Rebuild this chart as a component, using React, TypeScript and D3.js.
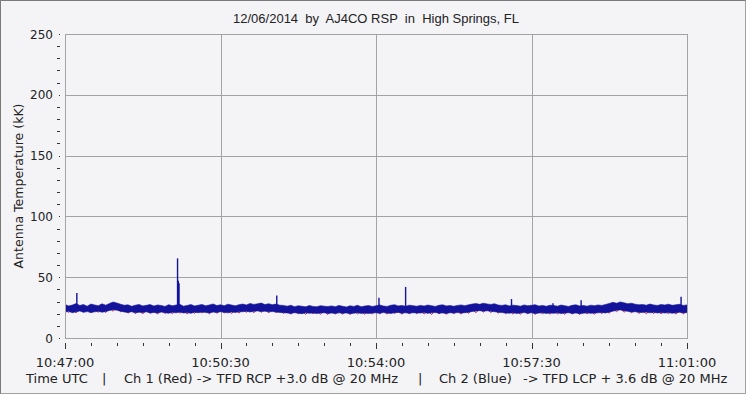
import React, { useEffect, useRef } from 'react';
import * as d3 from 'd3';

// x axis: time of day (UTC)
const startTime = '10:47:00';
const endTime = '11:01:00';
const sampleStep = 5; // seconds between band samples
const xTickLabels = ['10:47:00', '10:50:30', '10:54:00', '10:57:30', '11:01:00'];
const xMinorStep = 35; // seconds
const yTicks = [0, 50, 100, 150, 200, 250];
const yMinorStep = 10;

// Ch 2 (Blue): upper / lower edge of the noise band, kK, every 5 s
const blueHi = [
  27.6, 26.4, 27.1, 28.3, 26.8, 27.5, 26.2, 27.9, 27.2, 26.6, 28.1, 27.0,
  28.4, 29.6, 28.8, 27.8, 26.9, 27.3, 26.1, 27.0, 27.6, 26.4, 26.9, 27.5,
  26.3, 27.2, 26.7, 26.0, 27.4, 26.5, 27.1, 27.7, 26.2, 26.8, 27.5, 26.4,
  27.0, 27.6, 26.5, 27.2, 28.0, 26.7, 27.3, 26.6, 27.8, 27.1, 26.5, 27.4,
  27.9, 27.2, 28.4, 27.6, 28.1, 28.7, 27.5, 28.2, 27.4, 27.9, 27.0, 26.8,
  26.2, 26.9, 25.8, 26.5, 26.1, 25.6, 26.7, 26.0, 25.7, 26.6, 26.2, 25.9,
  26.4, 25.8, 26.8, 26.1, 25.5, 26.5, 26.0, 26.9, 25.7, 26.3, 26.7, 25.9,
  26.5, 27.2, 26.3, 26.0, 26.9, 27.4, 26.4, 26.8, 26.1, 27.0, 26.6, 26.2,
  26.8, 26.3, 27.1, 26.6, 26.0, 26.9, 27.3, 26.4, 26.7, 26.1, 26.8, 27.2,
  26.6, 27.3, 27.9, 28.3, 27.7, 28.6, 28.0, 27.6, 28.2, 27.1, 26.8, 27.3,
  26.4, 27.0, 26.7, 26.2, 27.2, 26.5, 26.9, 27.4, 26.3, 26.8, 26.1, 27.0,
  26.7, 26.2, 27.1, 26.5, 26.0, 26.9, 27.3, 26.4, 26.8, 26.2, 27.0, 26.6,
  27.2, 26.8, 27.6, 28.4, 29.3, 28.6, 29.7, 28.9, 28.2, 28.6, 27.8, 27.3,
  27.6, 27.0, 27.9, 27.2, 26.8, 27.5, 27.1, 27.8, 26.9, 27.3, 27.7, 26.8, 27.2,
];
const blueLo = [
  21.3, 21.9, 20.8, 21.6, 22.2, 21.1, 21.7, 20.9, 21.5, 22.0, 21.2, 21.8,
  22.6, 23.3, 22.9, 22.1, 21.4, 21.0, 21.6, 20.7, 21.2, 20.9, 21.5, 20.6,
  21.0, 20.5, 21.3, 20.8, 20.4, 21.1, 20.7, 21.4, 20.6, 21.0, 20.3, 21.2,
  20.8, 21.4, 21.0, 20.6, 21.3, 20.9, 21.6, 21.1, 20.7, 21.4, 21.0, 21.5,
  21.6, 22.0, 21.4, 21.9, 22.3, 21.7, 22.1, 21.5, 21.8, 21.3, 21.0, 20.8,
  20.6, 20.2, 20.8, 20.4, 20.0, 20.7, 20.3, 20.6, 20.1, 20.5, 20.8, 20.2,
  20.5, 20.1, 20.7, 20.3, 20.6, 20.0, 20.4, 20.8, 20.2, 20.5, 20.1, 20.6,
  20.7, 20.3, 20.9, 20.5, 20.2, 20.8, 21.0, 20.4, 20.7, 20.3, 20.8, 20.5,
  20.6, 20.9, 20.3, 20.7, 21.0, 20.4, 20.6, 20.2, 20.8, 20.5, 20.9, 20.6,
  20.8, 21.2, 21.8, 22.2, 22.5, 22.0, 22.4, 21.9, 21.6, 21.2, 20.9, 20.6,
  20.4, 20.8, 20.2, 20.6, 20.9, 20.3, 20.7, 20.1, 20.5, 20.8, 20.2, 20.6,
  20.3, 20.7, 20.1, 20.5, 20.8, 20.2, 20.6, 20.0, 20.4, 20.7, 20.3, 20.5,
  20.7, 21.0, 20.6, 21.3, 22.1, 22.8, 23.1, 22.5, 21.9, 21.4, 21.6, 21.1,
  20.9, 21.3, 20.7, 21.1, 20.6, 21.0, 20.5, 20.9, 20.4, 20.8, 21.1, 20.6, 20.9,
];
// Ch 1 (Red), kK, every 5 s
const redVals = [
  23.2, 21.0, 24.0, 20.6, 23.5, 21.4, 24.1, 20.8, 23.0, 21.2, 23.8, 20.9,
  24.6, 22.0, 25.1, 21.5, 23.6, 20.4, 23.1, 20.0, 22.9, 19.8, 23.4, 20.3,
  22.8, 19.6, 23.3, 20.1, 22.7, 19.9, 23.5, 20.4, 22.6, 19.7, 23.0, 20.2,
  23.4, 20.5, 22.9, 19.9, 23.6, 20.3, 23.1, 20.6, 22.8, 20.0, 23.5, 20.4,
  23.9, 21.0, 24.2, 20.7, 23.8, 21.1, 24.0, 20.6, 23.7, 20.9, 23.3, 20.2,
  22.7, 19.5, 22.9, 19.8, 22.4, 19.4, 22.8, 19.9, 22.5, 19.6, 22.3, 19.3,
  22.6, 19.7, 22.2, 19.5, 22.8, 19.2, 22.4, 19.8, 22.1, 19.4, 22.7, 19.6,
  22.9, 19.9, 22.5, 19.6, 23.0, 20.1, 22.6, 19.5, 22.8, 19.8, 23.1, 20.0,
  22.7, 19.7, 22.4, 19.3, 22.9, 19.8, 22.5, 19.4, 22.8, 19.9, 22.6, 19.6,
  23.0, 20.2, 23.6, 20.8, 24.1, 21.3, 23.9, 20.9, 23.5, 20.4, 23.0, 19.9,
  22.6, 19.6, 22.9, 19.4, 22.5, 19.8, 22.8, 19.3, 22.4, 19.7, 22.9, 19.5,
  22.7, 19.8, 22.3, 19.4, 22.8, 19.6, 22.5, 19.2, 22.9, 19.7, 22.4, 19.5,
  22.8, 19.9, 23.2, 20.3, 24.3, 21.5, 24.8, 21.2, 24.0, 20.6, 23.4, 20.1,
  23.1, 19.8, 22.8, 20.0, 23.3, 19.7, 22.9, 19.9, 23.2, 19.6, 22.7, 19.8, 22.6,
];
// Ch 2 (Blue) impulses
const spikeTimes = ['10:47:16', '10:49:32', '10:49:33', '10:49:34', '10:51:46', '10:54:04', '10:54:40', '10:57:03', '10:57:59', '10:58:37', '11:00:52'];
const spikeValues = [37, 65.5, 47, 45, 35, 33, 42, 32, 28.5, 31, 34];

const parseTime = d3.timeParse('%H:%M:%S');

export default function App() {
  const svgRef = useRef<SVGSVGElement>(null);

  useEffect(() => {
    if (!svgRef.current) return;
    const W = 747, H = 396;
    const margin = { top: 34, right: 60, bottom: 58, left: 65 };
    const bg = '#f4f4f7';
    const gridColor = '#a3a3a3';
    const tickColor = '#333';
    const blue = '#12129a';
    const red = '#c8304c';

    const svg = d3.select(svgRef.current);
    svg.selectAll('*').remove();

    svg.append('rect').attr('width', W).attr('height', H).attr('fill', '#fff');
    svg.append('rect')
      .attr('x', 0.5).attr('y', 0.5).attr('width', W - 2).attr('height', H - 3)
      .attr('fill', bg).attr('stroke', '#a0a0a0');
    svg.append('path').attr('d', `M0.5,${H - 2.5}V0.5H${W - 1.5}`).attr('fill', 'none').attr('stroke', '#7a7a7a');

    const t0 = parseTime(startTime)!;
    const t1 = parseTime(endTime)!;
    const x = d3.scaleTime().domain([t0, t1]).range([margin.left, W - margin.right]);
    const y = d3.scaleLinear().domain([0, 250]).range([H - margin.bottom, margin.top]);
    const sampleTime = (i: number) => d3.timeSecond.offset(t0, i * sampleStep);

    // grid
    const majorTimes = xTickLabels.map((s) => parseTime(s)!);
    svg.append('g').selectAll('line').data(majorTimes).join('line')
      .attr('x1', (d) => Math.round(x(d)) + 0.5).attr('x2', (d) => Math.round(x(d)) + 0.5)
      .attr('y1', y(0)).attr('y2', y(250))
      .attr('stroke', gridColor);
    svg.append('g').selectAll('line').data(yTicks).join('line')
      .attr('x1', x(t0)).attr('x2', x(t1))
      .attr('y1', (d) => Math.round(y(d)) + 0.5).attr('y2', (d) => Math.round(y(d)) + 0.5)
      .attr('stroke', gridColor);

    // data
    svg.append('clipPath').attr('id', 'plot-clip').append('rect')
      .attr('x', x(t0)).attr('y', y(250)).attr('width', x(t1) - x(t0)).attr('height', y(0) - y(250));
    const plot = svg.append('g').attr('clip-path', 'url(#plot-clip)');

    const redLine = d3.line<number>().x((_, i) => x(sampleTime(i))).y((d) => y(d));
    plot.append('path').datum(redVals)
      .attr('fill', 'none').attr('stroke', red).attr('stroke-width', 1).attr('d', redLine);

    const band = d3.area<number>()
      .x((_, i) => x(sampleTime(i)))
      .y0((_, i) => y(blueLo[i]))
      .y1((d) => y(d));
    plot.append('path').datum(blueHi)
      .attr('fill', blue).attr('stroke', blue).attr('stroke-width', 0.6).attr('d', band);

    plot.append('g').selectAll('line').data(spikeTimes).join('line')
      .attr('x1', (d) => x(parseTime(d)!)).attr('x2', (d) => x(parseTime(d)!))
      .attr('y1', (d) => {
        const i = Math.round(d3.timeSecond.count(t0, parseTime(d)!) / sampleStep);
        return y(blueHi[i] - 1);
      })
      .attr('y2', (_, i) => y(spikeValues[i]))
      .attr('stroke', blue).attr('stroke-width', 1.4);

    // frame
    svg.append('rect')
      .attr('x', Math.round(x(t0)) + 0.5).attr('y', Math.round(y(250)) + 0.5)
      .attr('width', Math.round(x(t1)) - Math.round(x(t0))).attr('height', Math.round(y(0)) - Math.round(y(250)))
      .attr('fill', 'none').attr('stroke', gridColor);

    // y ticks
    const yMinor = d3.range(0, 251, yMinorStep).filter((v) => v % 50 !== 0);
    svg.append('g').selectAll('line').data(yMinor).join('line')
      .attr('x1', 57).attr('x2', 60)
      .attr('y1', (d) => Math.round(y(d)) + 0.5).attr('y2', (d) => Math.round(y(d)) + 0.5)
      .attr('stroke', tickColor);
    svg.append('g').selectAll('rect').data(yTicks).join('rect')
      .attr('x', 59).attr('y', (d) => Math.round(y(d))).attr('width', 1).attr('height', 1)
      .attr('fill', tickColor);
    svg.append('g').selectAll('text').data(yTicks).join('text')
      .attr('x', 53).attr('y', (d) => y(d) + 4.5)
      .attr('text-anchor', 'end')
      .attr('font-family', 'DejaVu Sans').attr('font-size', 12).attr('fill', '#222')
      .text((d) => d);

    // x ticks
    const minorTimes = d3.range(0, 841, xMinorStep).map((s) => d3.timeSecond.offset(t0, s));
    svg.append('g').selectAll('line').data(minorTimes).join('line')
      .attr('x1', (d) => Math.round(x(d)) + 0.5).attr('x2', (d) => Math.round(x(d)) + 0.5)
      .attr('y1', 343).attr('y2', (d) => (d3.timeSecond.count(t0, d) % 210 === 0 ? 349 : 346))
      .attr('stroke', tickColor);
    svg.append('g').selectAll('text').data(xTickLabels).join('text')
      .attr('x', (d) => x(parseTime(d)!)).attr('y', 367)
      .attr('text-anchor', 'middle')
      .attr('font-family', 'DejaVu Sans').attr('font-size', 13).attr('fill', '#222')
      .text((d) => d);

    // footer
    const footer: [number, string][] = [
      [26, 'Time UTC'],
      [102, '|'],
      [124, 'Ch 1 (Red) -> TFD RCP +3.0 dB @ 20 MHz'],
      [418, '|'],
      [439, 'Ch 2 (Blue)'],
      [523, '-> TFD LCP + 3.6 dB @ 20 MHz'],
    ];
    svg.append('g').selectAll('text').data(footer).join('text')
      .attr('x', (d) => d[0]).attr('y', 383)
      .attr('font-family', 'DejaVu Sans').attr('font-size', 13).attr('fill', '#222')
      .text((d) => d[1]);

    // title
    svg.append('text')
      .attr('x', (x(t0) + x(t1)) / 2).attr('y', 23)
      .attr('text-anchor', 'middle').style('white-space', 'pre')
      .attr('font-family', 'Liberation Sans').attr('font-size', 13).attr('fill', '#222')
      .text('12/06/2014  by  AJ4CO RSP  in  High Springs, FL');

    // y label
    svg.append('text')
      .attr('transform', `translate(23,${(y(0) + y(250)) / 2}) rotate(-90)`)
      .attr('text-anchor', 'middle')
      .attr('font-family', 'DejaVu Sans').attr('font-size', 12.5).attr('fill', '#222')
      .text('Antenna Temperature (kK)');
  }, []);

  return (
    <svg ref={svgRef} width={747} height={396} style={{ position: 'absolute', left: 0, top: 0 }} />
  );
}
